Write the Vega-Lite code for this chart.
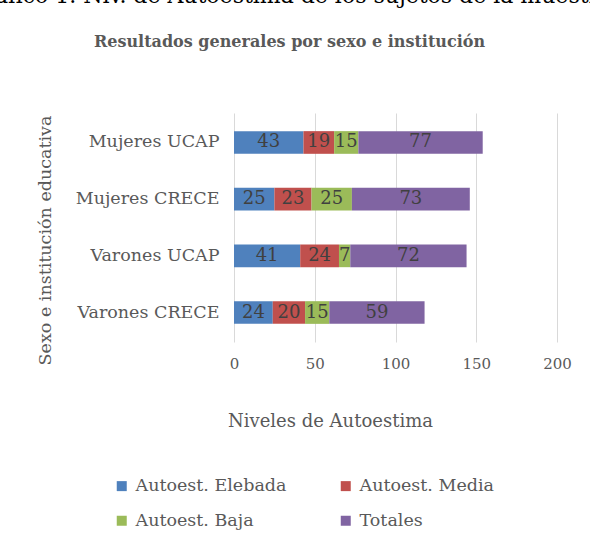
{
  "$schema": "https://vega.github.io/schema/vega-lite/v6.json",
  "autosize": "none",
  "width": 323,
  "height": 229,
  "padding": {"left": 234, "top": 113, "right": 33, "bottom": 213},
  "background": "white",
  "config": {
    "font": "DejaVu Serif",
    "view": {"stroke": null}
  },
  "title": {
    "text": "Gráfico 1. Niv. de Autoestima de los sujetos de la muestra",
    "subtitle": "Resultados generales por sexo e institución",
    "frame": "group",
    "anchor": "middle",
    "dx": -106,
    "offset": 62,
    "font": "DejaVu Serif",
    "fontSize": 22,
    "fontWeight": "normal",
    "color": "#000000",
    "subtitleFont": "DejaVu Serif",
    "subtitleFontSize": 16,
    "subtitleFontWeight": "bold",
    "subtitleColor": "#595959",
    "subtitlePadding": 26
  },
  "data": {
    "values": [
      {"grupo": "Mujeres UCAP", "nivel": "Autoest. Elebada", "ord": 1, "value": 43},
      {"grupo": "Mujeres UCAP", "nivel": "Autoest. Media", "ord": 2, "value": 19},
      {"grupo": "Mujeres UCAP", "nivel": "Autoest. Baja", "ord": 3, "value": 15},
      {"grupo": "Mujeres UCAP", "nivel": "Totales", "ord": 4, "value": 77},
      {"grupo": "Mujeres CRECE", "nivel": "Autoest. Elebada", "ord": 1, "value": 25},
      {"grupo": "Mujeres CRECE", "nivel": "Autoest. Media", "ord": 2, "value": 23},
      {"grupo": "Mujeres CRECE", "nivel": "Autoest. Baja", "ord": 3, "value": 25},
      {"grupo": "Mujeres CRECE", "nivel": "Totales", "ord": 4, "value": 73},
      {"grupo": "Varones UCAP", "nivel": "Autoest. Elebada", "ord": 1, "value": 41},
      {"grupo": "Varones UCAP", "nivel": "Autoest. Media", "ord": 2, "value": 24},
      {"grupo": "Varones UCAP", "nivel": "Autoest. Baja", "ord": 3, "value": 7},
      {"grupo": "Varones UCAP", "nivel": "Totales", "ord": 4, "value": 72},
      {"grupo": "Varones CRECE", "nivel": "Autoest. Elebada", "ord": 1, "value": 24},
      {"grupo": "Varones CRECE", "nivel": "Autoest. Media", "ord": 2, "value": 20},
      {"grupo": "Varones CRECE", "nivel": "Autoest. Baja", "ord": 3, "value": 15},
      {"grupo": "Varones CRECE", "nivel": "Totales", "ord": 4, "value": 59}
    ]
  },
  "transform": [
    {"stack": "value", "groupby": ["grupo"], "sort": [{"field": "ord", "order": "ascending"}], "as": ["x0", "x1"]}
  ],
  "encoding": {
    "y": {
      "field": "grupo",
      "type": "nominal",
      "sort": ["Mujeres UCAP", "Mujeres CRECE", "Varones UCAP", "Varones CRECE"],
      "scale": {"paddingInner": 0.6, "paddingOuter": 0.32},
      "axis": {
        "title": "Sexo e institución educativa",
        "titleFont": "DejaVu Serif",
        "titleFontSize": 17.5,
        "titleFontWeight": "normal",
        "titleColor": "#595959",
        "titleX": -189,
        "titleY": 127,
        "titleAngle": -90,
        "titleAlign": "center",
        "titleBaseline": "middle",
        "labelFont": "DejaVu Serif",
        "labelFontSize": 17.5,
        "labelColor": "#595959",
        "labelPadding": 15,
        "ticks": false,
        "domain": false,
        "grid": false
      }
    }
  },
  "layer": [
    {
      "mark": {"type": "bar"},
      "encoding": {
        "x": {
          "field": "x0",
          "type": "quantitative",
          "title": "Niveles de Autoestima",
          "scale": {"domain": [0, 200], "nice": false},
          "axis": {
            "values": [0, 50, 100, 150, 200],
            "titleFont": "DejaVu Serif",
            "titleFontSize": 18,
            "titleFontWeight": "normal",
            "titleColor": "#595959",
            "titleX": 96,
            "titleY": 79,
            "titleAlign": "center",
            "titleBaseline": "middle",
            "labelFont": "DejaVu Serif",
            "labelFontSize": 15,
            "labelColor": "#595959",
            "labelPadding": 14,
            "labelFlush": false,
            "ticks": false,
            "domain": false,
            "grid": true,
            "gridColor": "#d9d9d9",
            "gridWidth": 1
          }
        },
        "x2": {"field": "x1"},
        "color": {
          "field": "nivel",
          "type": "nominal",
          "scale": {
            "domain": ["Autoest. Elebada", "Autoest. Media", "Autoest. Baja", "Totales"],
            "range": ["#4f81bd", "#c0504d", "#9bbb59", "#8064a2"]
          },
          "legend": {
            "title": null,
            "orient": "none",
            "legendX": -121,
            "legendY": 364,
            "columns": 2,
            "direction": "horizontal",
            "symbolType": "square",
            "symbolSize": 100,
            "symbolStrokeWidth": 0,
            "symbolOpacity": 1,
            "labelFont": "DejaVu Serif",
            "labelFontSize": 17.5,
            "labelColor": "#595959",
            "labelOffset": 5,
            "columnPadding": 50,
            "rowPadding": 16
          }
        }
      }
    },
    {
      "transform": [
        {"fold": ["x0", "x1"], "as": ["edge", "pos"]}
      ],
      "mark": {"type": "text", "fontSize": 18, "color": "#404040", "font": "DejaVu Serif", "baseline": "middle", "align": "center"},
      "encoding": {
        "x": {"aggregate": "mean", "field": "pos", "type": "quantitative", "title": "Niveles de Autoestima"},
        "detail": {"field": "nivel", "type": "nominal"},
        "text": {"field": "value", "type": "quantitative"}
      }
    }
  ]
}
